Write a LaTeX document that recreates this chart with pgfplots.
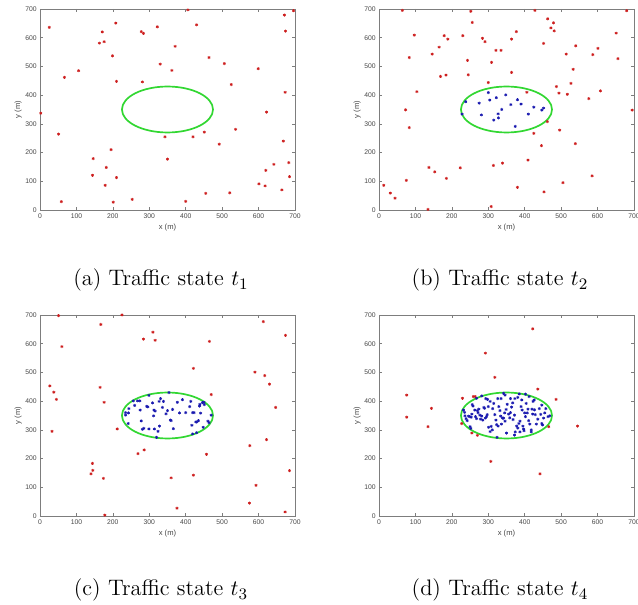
\documentclass[border=0pt]{standalone}
\usepackage{fontspec}
\usepackage{pgfplots}
\pgfplotsset{compat=1.18}
\newfontfamily\axisfont{Liberation Sans}

\definecolor{nodered}{RGB}{205,30,30}
\definecolor{nodeblue}{RGB}{25,25,175}
\definecolor{zonegreen}{RGB}{50,215,50}
\definecolor{framegray}{RGB}{125,125,125}
\definecolor{ticktext}{RGB}{70,70,70}

\pgfplotsset{
  traffic/.style={
    scale only axis, width=127.5pt, height=100.5pt, anchor=south west,
    xmin=0, xmax=700, ymin=0, ymax=700,
    xtick={0,100,...,700}, ytick={0,100,...,700},
    tick align=inside, major tick length=1.4pt,
    axis line style={framegray, line width=0.4pt},
    every tick/.style={framegray, line width=0.35pt},
    tick label style={font=\axisfont\fontsize{3.4}{4}\selectfont, text=ticktext, inner sep=1.5pt},
    /pgf/number format/assume math mode=true,
    xlabel={x (m)}, ylabel={y (m)},
    every axis x label/.style={at={(axis description cs:0.5,-0.085)}, anchor=center,
      font=\axisfont\fontsize{3.8}{4.4}\selectfont, text=ticktext},
    every axis y label/.style={at={(axis description cs:-0.086,0.5)}, anchor=center, rotate=90,
      font=\axisfont\fontsize{3.8}{4.4}\selectfont, text=ticktext},
  },
  outside/.style={only marks, mark=asterisk, mark size=0.75pt, color=nodered, mark options={line width=0.35pt}},
  inside/.style={only marks, mark=asterisk, mark size=0.75pt, color=nodeblue, mark options={line width=0.35pt}},
}

% communication zone around the intersection
\newcommand{\zone}{\draw[zonegreen, line width=0.85pt] (axis cs:350,350) ellipse [x radius=125, y radius=80];}

\begin{document}
\begin{tikzpicture}
\useasboundingbox (0,0) rectangle (319pt,302.5pt);

% ---------- (a) ----------
\begin{axis}[traffic, at={(20pt,197.5pt)}]
\zone
\addplot[outside] coordinates {
(25.6,636) (2,337) (67,462) (106,485) (51,264) (58.6,29) (171,620) (163,581)
(176,586) (208,651) (199,537) (210,448) (278,621) (284,615) (322,638) (406,697)
(430,645) (371,570) (330,508) (362,486) (281,446) (464,531) (506,510) (525,437)
(599,492) (671,679) (674,623) (696,694) (673,410) (622,341) (537,281) (451,271)
(420,255) (343,255) (492,229) (350,177) (195,210) (146,179) (182,148) (144,121)
(179,86) (210,113) (201,27) (253,37) (400,30) (455,58) (521,60) (668,240)
(620,138) (642,159) (683,165) (685,116) (601,91) (618,84) (664,70)
};
\end{axis}

% ---------- (b) ----------
\begin{axis}[traffic, at={(189.5pt,197.5pt)}]
\zone
\addplot[outside] coordinates {
(64,695) (97,609) (83,531) (104,412) (73,349) (83,287) (13,86) (31,59)
(44,41) (75,103) (137,148) (153,133) (185,110) (134.5,2) (146,543) (165,567)
(179,607) (189,595) (169,465) (184,470) (223,147) (230,607) (243,521) (245,471)
(252,692) (256,653) (284,598) (291,586) (300,444) (309,514) (321,556) (335,556)
(364,595) (377,621) (364,479) (314,155) (339,163) (308,12) (380,79) (409,174)
(425,267) (446,224) (428,695) (463,666) (479,652) (472,634) (481,624) (452,580)
(406,410) (487,430) (494,407) (514,543) (517,403) (527,441) (533,490) (540,572)
(496,278) (462,308) (539,231) (505,95) (453,63) (576,388) (587,541) (601,563)
(608,415) (585,119) (651,616) (656,527) (680,694) (695,348)
};
\addplot[inside] coordinates {
(238,377) (228,334) (275,372) (300,409) (304,383) (281,331) (322,391) (327,335)
(328,321) (315,313) (337,350) (348,401) (362,367) (380,384) (390,369) (374,291)
(410,334) (425,358) (447,348) (452,355)
};
\end{axis}

% ---------- (c) ----------
\begin{axis}[traffic, at={(20pt,44.5pt)}]
\zone
\addplot[outside] coordinates {
(51,698) (60,590) (27,453) (38,431) (45,406) (33,295) (167,667) (165,448)
(176,396) (225,700) (284,616) (310,640) (316,612) (212,303) (140,147) (144,183)
(145,159) (174,131) (178,3) (269,217) (286,230) (360,133) (376,27) (421,514)
(465,608) (470,423) (421,142) (457,215) (576,245) (590,501) (613,677) (617,489)
(630,459) (647,378) (674,629) (622,266) (593,107) (575,45) (673,14) (685,158)
};
\addplot[inside] coordinates {
(235,360) (235,351) (244,374) (243,359) (242,322) (256,401) (260,385) (268,401)
(274,401) (275,369) (278,331) (281,302) (285,305) (299,420) (293,382) (296,380)
(299,303) (309,394) (313,369) (316,365) (312,349) (314,303) (320,274) (324,295)
(327,399) (328,313) (331,409) (336,378) (339,399) (346,356) (350,367) (354,430)
(358,334) (360,332) (364,371) (366,304) (377,396) (383,359) (391,405) (400,360)
(411,381) (414,399) (419,360) (423,360) (417,316) (419,286) (430,290) (430,327)
(435,332) (438,383) (439,389) (441,358) (446,395) (451,388) (448,309) (461,330)
(464,325) (470,351) (428,328) (450,396)
};
\end{axis}

% ---------- (d) ----------
\begin{axis}[traffic, at={(189.5pt,44.5pt)}]
\zone
\addplot[outside] coordinates {
(76,421) (76,344) (144,375) (134.5,311) (229,410) (227,322) (259,416) (264,416)
(255,289) (270,281) (292,567) (318,483) (307,190) (422,652) (436,442) (486,406)
(466,311) (545,313) (442,147)
};
\addplot[inside] coordinates {
(342,427) (346,421) (385,425) (402,424) (361,409) (373,409) (381,413) (412,416)
(268,410) (282,418) (293,409) (298,406) (305,399) (326,409) (335,409) (423,399)
(426,404) (392,404)
(232,369) (235,361) (236,349) (239,339) (242,332) (246,348) (249,346) (253,344)
(250,311) (252,305) (255,355) (258,383) (256,388) (263,369) (265,346) (268,339)
(270,367) (272,360) (274,372) (277,351) (279,337) (282,348) (285,334) (288,378)
(290,375) (292,341) (295,346) (297,353) (300,381) (301,309) (305,294) (308,312)
(312,374) (315,392) (318,353) (321,334) (323,318) (327,313) (329,381) (332,367)
(334,348) (336,320) (339,341) (342,341) (345,359) (346,330) (349,371) (352,389)
(356,355) (359,342) (361,360) (364,379) (367,394) (368,336) (372,351) (374,293)
(378,313) (381,306) (384,322) (387,330) (387,293) (390,381) (393,369) (395,313)
(397,303) (400,359) (402,346) (404,392) (407,359) (409,372) (411,332) (414,320)
(418,293) (420,372) (422,355) (427,370) (429,353) (432,320) (436,337) (440,374)
(444,354) (447,386) (449,317) (452,341) (455,359) (458,374) (464,346) (469,349)
(447,322)
(324,274) (350,289) (372,282) (398,297) (418,300) (311,300)
};
\end{axis}

% sub-captions
\begin{scope}[every node/.style={anchor=base, inner sep=0pt, font=\fontsize{11.2}{13}\selectfont}]
\node at (80.5pt,159.5pt) {(a) Traffic state $t_1$};
\node at (250pt,159.5pt) {(b) Traffic state $t_2$};
\node at (80.5pt,4.5pt) {(c) Traffic state $t_3$};
\node at (250pt,4.5pt) {(d) Traffic state $t_4$};
\end{scope}
\end{tikzpicture}
\end{document}
